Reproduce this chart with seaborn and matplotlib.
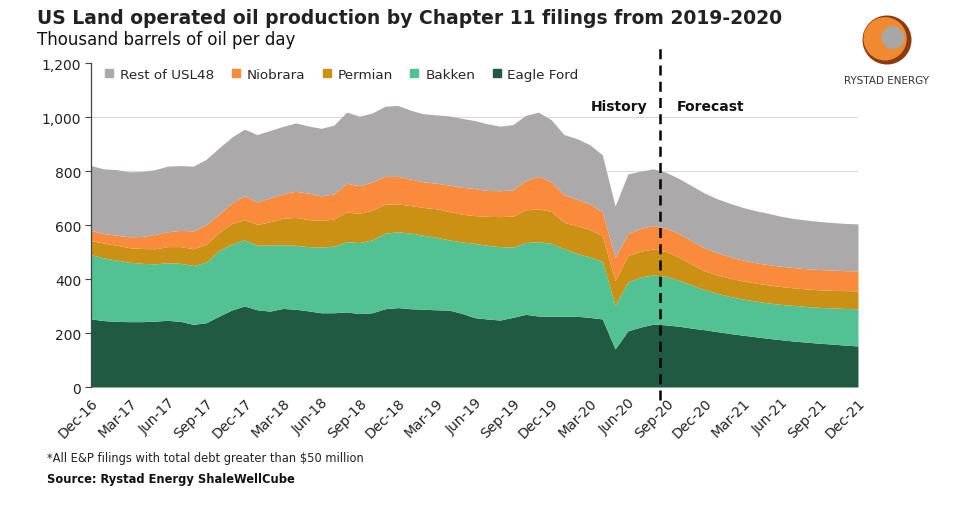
import numpy as np
import pandas as pd
import matplotlib
matplotlib.use("Agg")
import matplotlib.pyplot as plt
from matplotlib.lines import Line2D
from matplotlib.patches import Circle
import seaborn as sns

# ---------------- data (thousand barrels of oil per day) ----------------
months = list(pd.date_range("2016-12-01", "2021-12-01", freq="MS").strftime("%b-%y"))

eagle_ford = [252, 246, 243, 242, 242, 244, 247, 243, 232, 238, 262, 285, 300, 286, 281, 291,
              288, 282, 275, 275, 278, 272, 275, 290, 294, 290, 288, 286, 285, 273, 257, 252,
              248, 258, 269, 263, 262, 262, 262, 258, 252, 141, 208, 222, 233, 230, 225, 218,
              212, 205, 198, 192, 186, 180, 175, 170, 166, 162, 159, 155, 152]
bakken = [238, 232, 227, 220, 216, 212, 213, 215, 218, 224, 243, 245, 245, 239, 245, 236,
          237, 238, 243, 247, 260, 263, 270, 280, 281, 280, 274, 269, 260, 264, 275, 273,
          272, 260, 266, 275, 270, 250, 233, 224, 213, 162, 181, 186, 182, 180, 170, 160,
          148, 142, 137, 134, 132, 131, 131, 132, 132, 133, 134, 136, 138]
permian = [52, 55, 55, 54, 55, 56, 60, 62, 62, 66, 67, 75, 75, 77, 86, 98,
           103, 100, 99, 100, 110, 108, 110, 107, 103, 102, 103, 105, 105, 103, 103, 107,
           111, 115, 121, 122, 118, 98, 103, 102, 95, 91, 98, 95, 96, 92, 85, 77,
           70, 68, 68, 67, 67, 67, 66, 65, 65, 65, 65, 66, 66]
niobrara = [38, 35, 37, 40, 45, 53, 55, 60, 66, 72, 68, 75, 88, 83, 88, 90,
            97, 98, 91, 93, 107, 102, 105, 103, 102, 98, 95, 95, 98, 100, 100, 96,
            96, 97, 109, 120, 110, 102, 97, 94, 88, 86, 81, 85, 87, 86, 88, 85,
            85, 82, 79, 77, 75, 75, 75, 75, 75, 75, 75, 74, 74]
rest_usl48 = [240, 240, 243, 241, 240, 240, 243, 240, 240, 243, 245, 245, 247, 250, 250, 250,
              253, 249, 250, 255, 263, 258, 255, 260, 263, 255, 252, 253, 256, 255, 252, 247,
              239, 242, 241, 238, 230, 223, 225, 220, 212, 190, 221, 212, 210, 207, 204, 205,
              203, 200, 198, 195, 193, 190, 185, 182, 180, 178, 176, 175, 174]

series_names = ["Eagle Ford", "Bakken", "Permian", "Niobrara", "Rest of USL48"]
legend_order = ["Rest of USL48", "Niobrara", "Permian", "Bakken", "Eagle Ford"]
y_ticks = [0, 200, 400, 600, 800, 1000, 1200]
tick_labels = months[::3]
forecast_start = "Sep-20"

colors = {"Eagle Ford": "#215A42", "Bakken": "#52C293", "Permian": "#CA9114",
          "Niobrara": "#FA8A3C", "Rest of USL48": "#ABA9A9"}

df = pd.DataFrame({"month": months, "Eagle Ford": eagle_ford, "Bakken": bakken,
                   "Permian": permian, "Niobrara": niobrara, "Rest of USL48": rest_usl48})

# ---------------- style ----------------
sns.set_theme(style="white")
plt.rcParams["font.family"] = ["DejaVu Sans"]

fig = plt.figure(figsize=(9.58, 5.06), dpi=100)
ax = fig.add_axes([0.095, 0.2332, 0.8006, 0.6403])

x = np.arange(len(df))
for yt in y_ticks[1:-1]:
    ax.axhline(yt, color="#D9D9D9", lw=0.8, zorder=0)

ax.stackplot(x, *[df[n].values for n in series_names],
             colors=[colors[n] for n in series_names], lw=0, zorder=2)

ax.set_xlim(0, len(df) - 1)
ax.set_ylim(0, 1200)
ax.set_yticks(y_ticks)
ax.set_yticklabels([f"{v:,}" for v in y_ticks], fontsize=10, color="#222222")
ax.set_xticks(x[::3])
ax.set_xticklabels(tick_labels, rotation=45, ha="right", rotation_mode="anchor",
                   fontsize=10, color="#222222")
ax.tick_params(axis="y", length=4, width=0.8, color="#444444", pad=3, left=True)
ax.tick_params(axis="x", length=0, pad=6)

sns.despine(ax=ax, top=True, right=True, bottom=True)
ax.spines["left"].set_color("#444444")
ax.spines["left"].set_linewidth(0.9)

# history / forecast divider
fi = months.index(forecast_start) - 0.5
ax.axvline(fi, ymin=-0.04, ymax=1.052, color="black", lw=1.8, ls=(0, (4, 2.5)),
           clip_on=False, zorder=5)
ax.text(fi - 1.0, 1040, "History", ha="right", va="center", fontsize=10,
        fontweight="bold", color="#111111")
ax.text(fi + 1.3, 1040, "Forecast", ha="left", va="center", fontsize=10,
        fontweight="bold", color="#111111")

# legend
handles = [Line2D([0], [0], marker="s", ls="none", markersize=6,
                  markerfacecolor=colors[n], markeredgecolor=colors[n]) for n in legend_order]
ax.legend(handles, legend_order, loc="upper left", bbox_to_anchor=(0.003, 1.015), ncol=5,
          frameon=False, fontsize=9.7, handletextpad=0.3, columnspacing=1.1,
          handlelength=1.0, borderaxespad=0.3)

# titles and notes
fig.text(37 / 958, 1 - 18 / 506, "US Land operated oil production by Chapter 11 filings from 2019-2020",
         fontsize=13.5, fontweight="bold", ha="left", va="center", color="#222222")
fig.text(37 / 958, 1 - 40 / 506, "Thousand barrels of oil per day",
         fontsize=12, ha="left", va="center", color="#111111")
fig.text(47 / 958, 1 - 459 / 506, "*All E&P filings with total debt greater than $50 million",
         fontsize=8.3, ha="left", va="center", color="#222222")
fig.text(47 / 958, 1 - 480 / 506, "Source: Rystad Energy ShaleWellCube",
         fontsize=8.3, fontweight="bold", ha="left", va="center", color="#111111")

# logo
fig.text(886 / 958, 1 - 81 / 506, "RYSTAD ENERGY", fontsize=7.5, ha="center", va="center",
         color="#333333")
lax = fig.add_axes([862 / 958, 1 - 66 / 506, 50 / 958, 50 / 506])
lax.set_aspect("equal")
lax.axis("off")
lax.add_patch(Circle((0, 0), 1.0, color="#8A3A10"))
lax.add_patch(Circle((-0.08, 0.05), 0.88, color="#F08A30"))
lax.add_patch(Circle((0.25, 0.1), 0.45, color="#A7A7A7"))
lax.set_xlim(-1.05, 1.05)
lax.set_ylim(-1.05, 1.05)

fig.savefig("out.png", dpi=100)
